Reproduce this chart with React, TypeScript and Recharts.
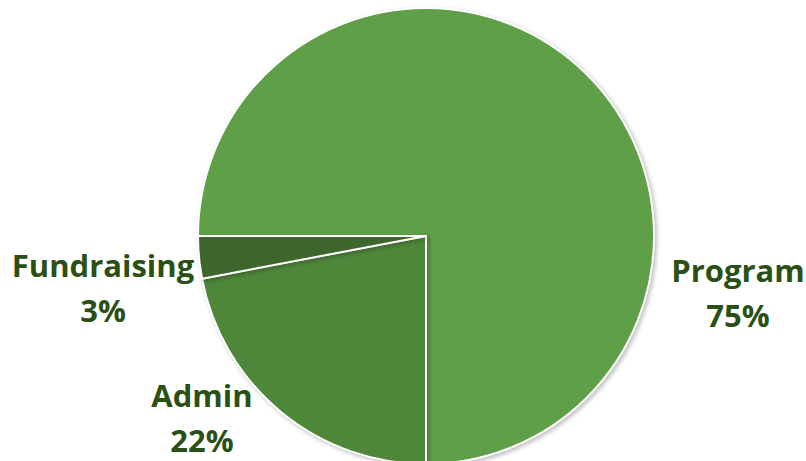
import React from 'react'
import { PieChart, Pie, Cell } from 'recharts'

const categories = ['Program', 'Admin', 'Fundraising']
const shares = [75, 22, 3]
const sliceColors = ['#5f9f47', '#4f873a', '#3e662c']

// first-line baseline of each label, offset from the pie centre in px
const labelOffsets = [
  { dx: 312, dy: 46 },
  { dx: -224, dy: 171 },
  { dx: -323, dy: 41 },
]

const data = categories.map((name, i) => ({ name, value: shares[i] }))

function renderLabel(props: any) {
  const { cx, cy, index, name, value } = props
  const off = labelOffsets[index]
  const x = cx + off.dx
  const y = cy + off.dy
  return (
    <text
      x={x}
      y={y}
      textAnchor="middle"
      fill="#2b5016"
      fontFamily="'Open Sans', Lato, sans-serif"
      fontWeight={700}
      fontSize={31}
    >
      <tspan x={x} y={y}>{name}</tspan>
      <tspan x={x} dy={45}>{value}%</tspan>
    </text>
  )
}

export default function App() {
  return (
    <div style={{ position: 'absolute', left: 0, top: 0, width: 806, height: 461, background: '#fff' }}>
      <PieChart width={806} height={461} margin={{ top: 0, right: 0, bottom: 0, left: 0 }}>
        <Pie
          data={data}
          dataKey="value"
          nameKey="name"
          cx={426}
          cy={236}
          outerRadius={228}
          startAngle={180}
          endAngle={-180}
          stroke="#ffffff"
          strokeWidth={2}
          label={renderLabel}
          labelLine={false}
          isAnimationActive={false}
          style={{ filter: 'drop-shadow(2px 2px 2px rgba(0,0,0,0.25))' }}
        >
          {data.map((entry, index) => (
            <Cell key={`cell-${index}`} fill={sliceColors[index]} />
          ))}
        </Pie>
      </PieChart>
    </div>
  )
}
